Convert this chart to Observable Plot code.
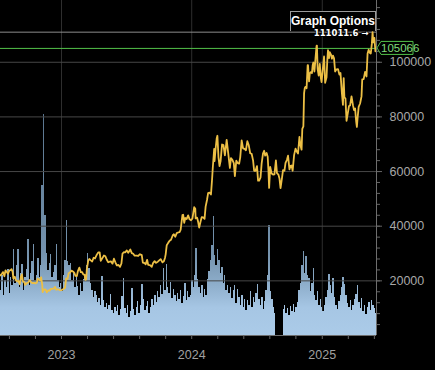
<!DOCTYPE html>
<html><head><meta charset="utf-8">
<script src="https://cdn.jsdelivr.net/npm/d3@7"></script>
<script src="https://cdn.jsdelivr.net/npm/@observablehq/plot@0.6"></script>
<style>
html,body{margin:0;padding:0;background:#000;}
#chart{position:relative;width:435px;height:370px;background:#000;overflow:hidden;font-family:"Liberation Sans",Arial,sans-serif;}
#chart svg{position:absolute;left:0;top:0;}
#chart svg.vol{z-index:1;}
#chart svg.main{z-index:3;}
#opts{position:absolute;left:290px;top:11px;width:84px;height:19px;border:1px solid #9a9a9a;border-bottom:none;color:#fff;font-weight:bold;font-size:12px;line-height:19px;text-align:center;background:#000;z-index:2;white-space:nowrap;}
</style></head><body><div id="chart"><div id="opts">Graph Options</div></div>
<script>
// ---- price (daily-ish closes, USD) ----
const price2022 = [["2022-07-14",22000],["2022-07-18",22600],["2022-07-21",23200],["2022-07-25",21700],["2022-07-28",23850],["2022-07-31",23300],["2022-08-04",22600],["2022-08-08",23800],["2022-08-11",23950],["2022-08-14",24300],["2022-08-17",23300],["2022-08-19",20850],["2022-08-23",21500],["2022-08-26",20250],["2022-08-30",19800],["2022-09-02",19950],["2022-09-06",18800],["2022-09-09",21350],["2022-09-12",22350],["2022-09-15",19700],["2022-09-19",19550],["2022-09-21",18500],["2022-09-26",19200],["2022-09-30",19400],["2022-10-04",20300],["2022-10-08",19450],["2022-10-12",19150],["2022-10-16",19250],["2022-10-20",19050],["2022-10-24",19350],["2022-10-26",20800],["2022-10-29",20600],["2022-11-02",20150],["2022-11-05",21300],["2022-11-08",18550],["2022-11-09",15900],["2022-11-12",16800],["2022-11-15",16900],["2022-11-18",16700],["2022-11-21",15800],["2022-11-25",16500],["2022-11-29",16450],["2022-12-02",17100],["2022-12-06",17100],["2022-12-10",17150],["2022-12-14",17800],["2022-12-17",16750],["2022-12-20",16900],["2022-12-24",16850],["2022-12-28",16550]];
const price2023 = [["2023-01-01",16600],["2023-01-04",16850],["2023-01-08",17100],["2023-01-11",17450],["2023-01-14",20900],["2023-01-18",20700],["2023-01-21",22800],["2023-01-25",23100],["2023-01-29",23750],["2023-02-02",23450],["2023-02-06",22900],["2023-02-09",21800],["2023-02-13",21750],["2023-02-16",23600],["2023-02-20",24850],["2023-02-24",23200],["2023-02-28",23150],["2023-03-03",22400],["2023-03-07",22200],["2023-03-09",20350],["2023-03-11",20500],["2023-03-13",24200],["2023-03-17",27400],["2023-03-20",28000],["2023-03-24",27500],["2023-03-28",27100],["2023-04-01",28450],["2023-04-05",28200],["2023-04-10",29600],["2023-04-14",30400],["2023-04-18",30400],["2023-04-21",27300],["2023-04-26",28400],["2023-04-30",29300],["2023-05-04",29000],["2023-05-08",27700],["2023-05-12",26800],["2023-05-16",27000],["2023-05-20",27100],["2023-05-24",26300],["2023-05-28",28100],["2023-06-01",26800],["2023-06-05",25700],["2023-06-10",25800],["2023-06-14",25100],["2023-06-18",26350],["2023-06-21",30000],["2023-06-25",30500],["2023-06-29",30450],["2023-07-03",31150],["2023-07-07",30300],["2023-07-13",31450],["2023-07-17",30150],["2023-07-21",29900],["2023-07-25",29200],["2023-07-30",29250],["2023-08-04",29100],["2023-08-09",29750],["2023-08-14",29400],["2023-08-17",26650],["2023-08-22",26450],["2023-08-25",26050],["2023-08-29",27700],["2023-09-01",25850],["2023-09-06",25750],["2023-09-11",25150],["2023-09-15",26600],["2023-09-19",27200],["2023-09-23",26580],["2023-09-28",27030],["2023-10-02",27500],["2023-10-06",27950],["2023-10-11",26750],["2023-10-15",27150],["2023-10-18",28350],["2023-10-20",29700],["2023-10-23",33050],["2023-10-27",33900],["2023-10-31",34650],["2023-11-04",35050],["2023-11-09",36700],["2023-11-12",37050],["2023-11-16",36150],["2023-11-20",37450],["2023-11-24",37700],["2023-11-28",37800],["2023-12-01",38700],["2023-12-04",41950],["2023-12-06",44050],["2023-12-08",44200],["2023-12-11",41250],["2023-12-14",43000],["2023-12-18",42650],["2023-12-22",43950],["2023-12-26",42500],["2023-12-30",42150]];
const price2024 = [["2024-01-03",42850],["2024-01-08",46950],["2024-01-11",46350],["2024-01-12",42850],["2024-01-16",43150],["2024-01-19",41600],["2024-01-22",39500],["2024-01-26",41800],["2024-01-29",43300],["2024-02-02",43200],["2024-02-06",42700],["2024-02-09",47150],["2024-02-13",49700],["2024-02-16",52100],["2024-02-20",52300],["2024-02-24",51600],["2024-02-27",57000],["2024-02-29",61200],["2024-03-04",68300],["2024-03-05",63800],["2024-03-08",68350],["2024-03-11",72100],["2024-03-13",73100],["2024-03-16",65300],["2024-03-19",62000],["2024-03-22",63800],["2024-03-26",69900],["2024-03-30",69700],["2024-04-03",65900],["2024-04-08",71600],["2024-04-12",67100],["2024-04-17",61300],["2024-04-20",64900],["2024-04-24",64300],["2024-04-28",63100],["2024-05-01",58300],["2024-05-05",64000],["2024-05-09",63100],["2024-05-13",62900],["2024-05-16",65200],["2024-05-20",71400],["2024-05-24",68500],["2024-05-28",68300],["2024-06-01",67800],["2024-06-05",71100],["2024-06-09",69600],["2024-06-13",66700],["2024-06-17",66500],["2024-06-21",64100],["2024-06-24",60300],["2024-06-28",60300],["2024-07-02",62000],["2024-07-05",56700],["2024-07-08",56700],["2024-07-12",57900],["2024-07-15",62900],["2024-07-19",66700],["2024-07-22",67600],["2024-07-25",65800],["2024-07-29",66800],["2024-08-01",65400],["2024-08-03",60700],["2024-08-05",54000],["2024-08-08",61700],["2024-08-12",59300],["2024-08-16",58900],["2024-08-20",59000],["2024-08-24",64100],["2024-08-27",59400],["2024-08-31",58900],["2024-09-03",57500],["2024-09-06",53900],["2024-09-10",57600],["2024-09-13",60500],["2024-09-17",60300],["2024-09-20",63200],["2024-09-24",64300],["2024-09-27",65800],["2024-10-01",60800],["2024-10-04",62100],["2024-10-07",62200],["2024-10-10",60300],["2024-10-14",66000],["2024-10-18",68400],["2024-10-21",67400],["2024-10-25",66600],["2024-10-29",72700],["2024-11-01",69500],["2024-11-04",68000],["2024-11-06",75600],["2024-11-09",76500],["2024-11-11",88700],["2024-11-13",90600],["2024-11-15",91000],["2024-11-18",90500],["2024-11-21",98900],["2024-11-22",98900],["2024-11-25",93000],["2024-11-27",95900],["2024-11-30",96400],["2024-12-03",96000],["2024-12-05",98800],["2024-12-07",99900],["2024-12-10",96600],["2024-12-13",101400],["2024-12-16",106000],["2024-12-17",106100],["2024-12-19",97500],["2024-12-22",95100],["2024-12-25",99400],["2024-12-28",94300],["2024-12-30",92700]];
const price2025 = [["2025-01-02",96900],["2025-01-06",102100],["2025-01-09",92500],["2025-01-13",94500],["2025-01-15",100500],["2025-01-17",104400],["2025-01-20",101500],["2025-01-22",103700],["2025-01-26",102600],["2025-01-28",101300],["2025-01-31",102400],["2025-02-03",101400],["2025-02-06",96600],["2025-02-10",97400],["2025-02-14",97500],["2025-02-18",95500],["2025-02-21",96100],["2025-02-25",88700],["2025-02-28",84400],["2025-03-02",94200],["2025-03-04",87200],["2025-03-07",86700],["2025-03-10",78600],["2025-03-13",80900],["2025-03-17",84000],["2025-03-20",84200],["2025-03-24",87500],["2025-03-28",84300],["2025-03-31",82500],["2025-04-03",83100],["2025-04-06",78400],["2025-04-08",76300],["2025-04-10",79600],["2025-04-13",83700],["2025-04-17",84900],["2025-04-21",87500],["2025-04-23",93700],["2025-04-27",93800],["2025-05-01",96500],["2025-05-05",94800],["2025-05-08",103200],["2025-05-11",104600],["2025-05-14",103500],["2025-05-17",103200],["2025-05-20",106800],["2025-05-22",111011.6],["2025-05-24",107300],["2025-05-27",108900],["2025-05-30",104000],["2025-06-01",105066]];

// ---- volume (relative units), one value per 4-day step ----
const volStart = "2022-07-14";
const volStepDays = 4;
const volumes = [45,60,40,55,48,66,42,58,50,86, 52,70,86,48,62,71,45,58,66,96, 50,62,74,91,55,60,77,58,70,150,
 221,120,82,65,72,81,58,63,70,91, 55,48,52,44,60,75,115,74,70,72, 55,62,48,58,49,40,52,44,56,60,
 70,82,67,52,45,38,44,40,33,37, 30,59,35,28,32,26,30,41,25,22, 28,24,30,20,26,39,57,27,22,30,
 18,24,47,26,20,28,34,22,30,51, 36,25,29,34,22,28,36,30,40,33, 44,38,50,41,67,45,71,48,42,53,
 37,46,40,34,42,36,45,32,39,52, 35,44,38,40,55,48,60,87,56,48, 42,50,38,46,40,56,64,75,90,119,
 80,70,86,75,62,68,52,60,45,50, 42,48,37,45,50,32,46,38,30,40, 28,36,25,35,30,44,28,38,33,42,
 51,36,30,38,26,34,45,60,110,44, 36,28,22,0,0,0,0,0,26,30, 22,27,20,29,24,31,23,28,33,45,
 52,70,84,62,79,60,57,44,52,67, 40,35,44,30,36,28,24,30,38,45, 61,50,42,57,38,30,26,34,40,48,
 58,51,40,32,28,35,25,30,36,41, 50,33,27,37,24,30,21,28,33,25, 35,30,27,22];

// ---- axes ----
const xDomain = ["2022-07-14","2025-06-02"];
const yDomainMax = 122600;
const yTicks = [20000,40000,60000,80000,100000];
const yearTicks = ["2023-01-01","2024-01-01","2025-01-01"];
const yearLabels = ["2023","2024","2025"];

const W = 435, H = 370, mR = 59, mB = 35;
const parse = d3.utcParse("%Y-%m-%d");
const price = [...price2022, ...price2023, ...price2024, ...price2025].map(([d, v]) => ({date: parse(d), value: v}));
const v0 = parse(volStart);
const vol = volumes.map((v, i) => ({x1: d3.utcDay.offset(v0, i * volStepDays), x2: d3.utcDay.offset(v0, (i + 1) * volStepDays), v}));
const xd = xDomain.map(parse);
const years = yearTicks.map(parse);
const maxVal = d3.max(price, d => d.value);
const lastVal = price[price.length - 1].value;
const minorX = [];
for (let y = 2022; y <= 2025; y++) for (let k = 0; k < 5; k++) {
  const t = d3.utcDay.offset(new Date(Date.UTC(y, 0, 1)), Math.round(k * 73));
  if (t >= xd[0] && t <= xd[1]) minorX.push(t);
}
const minorY = d3.range(4000, yDomainMax, 4000);
const font = "'Liberation Sans', Arial, sans-serif";

const volPlot = Plot.plot({
  width: W, height: H, marginLeft: 0, marginRight: mR, marginTop: 0, marginBottom: mB,
  style: {background: "transparent"},
  x: {type: "utc", domain: xd, axis: null},
  y: {domain: [0, 335], axis: null},
  marks: [
    Plot.gridX(years, {stroke: "#2e2e2e", strokeOpacity: 1}),
    Plot.rectY(vol, {x1: "x1", x2: "x2", y: "v", fill: "url(#volgrad)", shapeRendering: "crispEdges"})
  ]
});
volPlot.classList.add("vol");
// vertical shading of the volume bars (bright base, dimmer tall spikes)
{
  const ns = "http://www.w3.org/2000/svg";
  const defs = document.createElementNS(ns, "defs");
  const lg = document.createElementNS(ns, "linearGradient");
  lg.setAttribute("id", "volgrad"); lg.setAttribute("gradientUnits", "userSpaceOnUse");
  lg.setAttribute("x1", "0"); lg.setAttribute("x2", "0");
  const vy = volPlot.scale("y");
  lg.setAttribute("y1", vy.apply(0)); lg.setAttribute("y2", vy.apply(230));
  [["0", "#abcbe8"], ["0.12", "#a6c6e4"], ["0.22", "#8eaecb"], ["0.35", "#7593ae"], ["1", "#58738c"]].forEach(([o, c]) => {
    const s = document.createElementNS(ns, "stop"); s.setAttribute("offset", o); s.setAttribute("stop-color", c); lg.appendChild(s);
  });
  defs.appendChild(lg); volPlot.insertBefore(defs, volPlot.firstChild);
}

const main = Plot.plot({
  width: W, height: H, marginLeft: 0, marginRight: mR, marginTop: 0, marginBottom: mB,
  style: {background: "transparent", fontFamily: font, color: "#a8a8a8"},
  x: {type: "utc", domain: xd, label: null},
  y: {domain: [0, yDomainMax], label: null},
  marks: [
    Plot.gridY(yTicks, {stroke: "#474747", strokeOpacity: 1}),
    Plot.ruleY([maxVal], {stroke: "#8c8c8c"}),
    Plot.ruleY([lastVal], {stroke: "#53c24a"}),
    Plot.lineY(price, {x: "date", y: "value", stroke: "#ecbf45", strokeWidth: 1.8, strokeLinejoin: "round"}),
    Plot.ruleX([xd[1]], {stroke: "#6e6e6e"}),
    Plot.ruleY([0], {stroke: "#6e6e6e"}),
    Plot.axisY(minorY, {anchor: "right", label: null, tickSize: 3, tickFormat: () => "", stroke: "#666"}),
    Plot.axisY(yTicks, {anchor: "right", label: null, tickSize: 5, tickPadding: 8, tickFormat: d => String(d), fill: "#a8a8a8", fontSize: 12.5, stroke: "#666"}),
    Plot.axisX(minorX, {anchor: "bottom", label: null, tickSize: 4, tickFormat: () => "", stroke: "#666"}),
    Plot.axisX(years, {anchor: "bottom", label: null, tickSize: 0, tickPadding: 15, fill: "#a0a0a0", fontSize: 12.5,
      tickFormat: d => yearLabels[years.findIndex(t => +t === +d)]}),
    Plot.text([maxVal], {y: d => d, frameAnchor: "right", textAnchor: "end", dx: -8, dy: 1, text: d => String(d) + " \u2192",
      fill: "#fff", fontWeight: "bold", fontSize: 8.5, fontFamily: "'DejaVu Sans', sans-serif", stroke: "#000", strokeWidth: 1.5, paintOrder: "stroke"})
  ]
});
main.classList.add("main");

const chart = document.getElementById("chart");
chart.appendChild(volPlot);
chart.appendChild(main);

// green last-price tag, positioned through the plot's own scales
const ys = main.scale("y"), xs = main.scale("x");
const py = ys.apply(lastVal), px = xs.apply(xd[1]);
const ns = "http://www.w3.org/2000/svg";
const g = document.createElementNS(ns, "g");
const path = document.createElementNS(ns, "path");
path.setAttribute("d", `M${px + 1},${py} L${px + 5},${py - 6.5} H${px + 37} V${py + 6.5} H${px + 5} Z`);
path.setAttribute("fill", "#000"); path.setAttribute("stroke", "#53c24a"); path.setAttribute("stroke-width", "1");
const txt = document.createElementNS(ns, "text");
txt.setAttribute("x", px + 5); txt.setAttribute("y", py + 4);
txt.setAttribute("text-anchor", "start");
txt.setAttribute("fill", "#7fdc7a"); txt.setAttribute("font-size", "11.5");
txt.setAttribute("font-family", font);
txt.textContent = String(lastVal);
g.appendChild(path); g.appendChild(txt);
main.appendChild(g);
</script>
</body></html>
